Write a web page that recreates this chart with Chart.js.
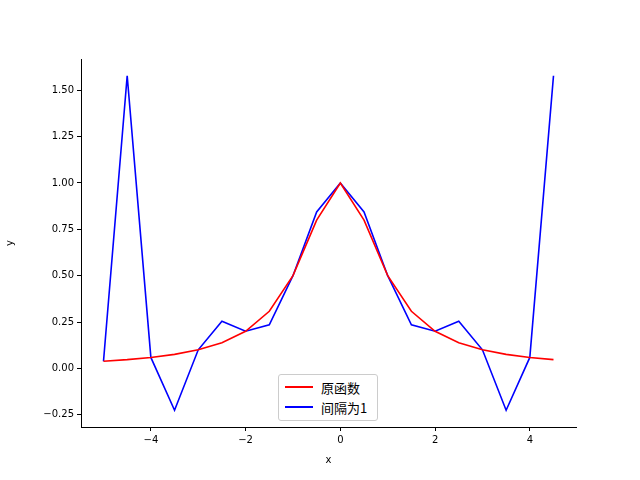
<!DOCTYPE html>
<html>
<head>
<meta charset="utf-8">
<script src="https://cdn.jsdelivr.net/npm/chart.js@4/dist/chart.umd.min.js"></script>
<style>
  body { margin: 0; background: #fff; }
  #wrap { position: relative; width: 640px; height: 480px; }
  #legend {
    position: absolute; left: 278px; top: 374px; width: 98px;
    border: 1px solid #ccc; border-radius: 3px; background: #fff;
    font: 13px "Noto Sans CJK SC", sans-serif; padding: 2px 0 3px 0;
  }
  .item { display: flex; align-items: center; height: 20px; }
  .swatch { width: 28px; height: 2px; margin: 0 8px 0 6px; }
</style>
</head>
<body>
<div id="wrap">
  <canvas id="chart" width="640" height="480"></canvas>
  <div id="legend">
    <div class="item"><span class="swatch" style="background:red"></span>原函数</div>
    <div class="item"><span class="swatch" style="background:blue"></span>间隔为1</div>
  </div>
</div>
<script>
// sample points
const xs = [-5, -4.5, -4, -3.5, -3, -2.5, -2, -1.5, -1, -0.5, 0, 0.5, 1, 1.5, 2, 2.5, 3, 3.5, 4, 4.5];
const originalValues = [0.0385, 0.0471, 0.0588, 0.0755, 0.1, 0.1379, 0.2, 0.3077, 0.5, 0.8, 1,
    0.8, 0.5, 0.3077, 0.2, 0.1379, 0.1, 0.0755, 0.0588, 0.0471];
const interpValues = [0.0385, 1.5787, 0.0588, -0.2262, 0.1, 0.2538, 0.2, 0.2353, 0.5, 0.8434, 1,
    0.8434, 0.5, 0.2353, 0.2, 0.2538, 0.1, -0.2262, 0.0588, 1.5787];
const xTicks = [-4, -2, 0, 2, 4];
const yTicks = [-0.25, 0, 0.25, 0.5, 0.75, 1, 1.25, 1.5];

const toPoints = vals => xs.map((x, i) => ({ x: x, y: vals[i] }));
const tickFont = { family: 'DejaVu Sans', size: 10 };

new Chart(document.getElementById('chart'), {
    type: 'line',
    data: {
        datasets: [
            { label: '原函数', data: toPoints(originalValues), borderColor: 'red', borderWidth: 1.6, pointRadius: 0, tension: 0 },
            { label: '间隔为1', data: toPoints(interpValues), borderColor: 'blue', borderWidth: 1.6, pointRadius: 0, tension: 0 }
        ]
    },
    options: {
        responsive: false,
        animation: false,
        layout: { padding: { left: 0, right: 64, top: 59, bottom: 12 } },
        plugins: { legend: { display: false }, tooltip: { enabled: false } },
        scales: {
            x: {
                type: 'linear', min: -5.475, max: 4.975,
                afterBuildTicks: s => { s.ticks = xTicks.map(v => ({ value: v })); },
                afterFit: s => { s.height = 41; },
                grid: { drawOnChartArea: false, color: '#000', tickLength: 4 },
                border: { color: '#000' },
                ticks: { color: '#000', font: tickFont, maxRotation: 0, padding: 3,
                    callback: v => (v < 0 ? '\u2212' + Math.abs(v) : String(v)) },
                title: { display: true, text: 'x', color: '#000', font: tickFont, padding: 2 }
            },
            y: {
                type: 'linear', min: -0.3165, max: 1.669,
                afterBuildTicks: s => { s.ticks = yTicks.map(v => ({ value: v })); },
                afterFit: s => { s.width = 81; },
                grid: { drawOnChartArea: false, color: '#000', tickLength: 4 },
                border: { color: '#000' },
                ticks: { color: '#000', font: tickFont, padding: 3,
                    callback: v => (v < 0 ? '\u2212' + Math.abs(v).toFixed(2) : v.toFixed(2)) },
                title: { display: true, text: 'y', color: '#000', font: tickFont, padding: 4 }
            }
        }
    }
});
</script>
</body>
</html>
